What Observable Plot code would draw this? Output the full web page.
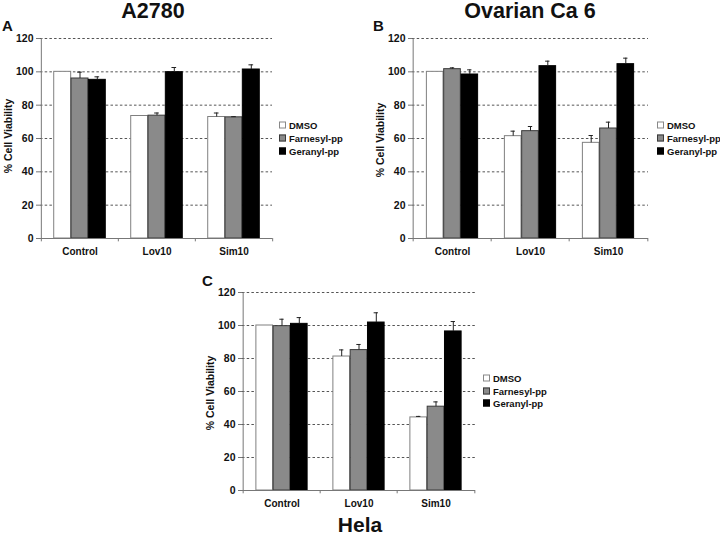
<!DOCTYPE html>
<html>
<head>
<meta charset="utf-8">
<script src="https://cdn.jsdelivr.net/npm/d3@7"></script>
<script src="https://cdn.jsdelivr.net/npm/@observablehq/plot@0.6"></script>
<style>
  html, body { margin: 0; padding: 0; background: #fff; }
  #fig { position: relative; width: 720px; height: 536px; background: #fff; font-family: "Liberation Sans", Arial, sans-serif; color: #111; overflow: hidden; }
  .abs { position: absolute; }
  .title { font-weight: bold; white-space: nowrap; line-height: 1; transform: translate(-50%, -50%); }
  .letter { font-weight: bold; font-size: 15px; transform: translateY(-50%); }
  .ylab { font-weight: bold; font-size: 10.5px; white-space: nowrap; transform: translate(-50%, -50%) rotate(-90deg); }
  .legend { font-weight: bold; font-size: 9.5px; }
  .legend .row { position: absolute; left: 0; white-space: nowrap; transform: translateY(-50%); display: flex; align-items: center; }
  .legend .box { width: 7px; height: 7px; margin-right: 3px; box-sizing: border-box; }
</style>
</head>
<body>
<div id="fig"></div>
<script>
const categories = ["Control", "Lov10", "Sim10"];
const series = ["DMSO", "Farnesyl-pp", "Geranyl-pp"];
const yTicks = [0, 20, 40, 60, 80, 100, 120];

// values[category][series], errors[category][series]
const a2780Values = [[100, 96.0, 95.2], [73.5, 73.7, 99.8], [72.9, 72.7, 101.4]];
const a2780Errors = [[0, 3.8, 1.8], [0, 1.6, 2.8], [2.4, 0.4, 2.8]];
const ovarianValues = [[100, 101.6, 98.4], [61.4, 64.4, 103.4], [57.4, 66.0, 104.6]];
const ovarianErrors = [[0, 0.8, 2.8], [3.0, 2.8, 3.0], [4.4, 3.8, 3.6]];
const helaValues = [[100, 99.6, 101.0], [81.2, 85.1, 101.8], [44.3, 50.8, 96.4]];
const helaErrors = [[0, 4.2, 3.8], [4.0, 3.4, 5.9], [0.6, 2.9, 6.0]];

const fills = ["#ffffff", "#8a8a8a", "#000000"];
const strokes = ["#808080", "#3a3a3a", "#000000"];

const fig = document.getElementById("fig");

function add(html, cls, x, y, extra = "") {
  const d = document.createElement("div");
  d.className = "abs " + cls;
  d.style.left = x + "px";
  d.style.top = y + "px";
  if (extra) d.style.cssText += extra;
  d.textContent = html;
  fig.appendChild(d);
  return d;
}

function panel({values, errors, left, top, width, height, ml, mr, mt, mb}) {
  const rows = [];
  categories.forEach((c, ci) => series.forEach((s, si) => {
    rows.push({category: c, series: s, si, value: values[ci][si], err: errors[ci][si]});
  }));
  const b = (width - ml - mr) / categories.length;
  const w = 17.3;
  const off0 = (b - 3 * w) / 2;
  const cap = 2.5;
  const marks = [
    Plot.ruleY([20, 40, 60, 80, 100, 120], {stroke: "#555", strokeDasharray: "2.5,2.2", strokeWidth: 1})
  ];
  series.forEach((s, si) => {
    const data = rows.filter(r => r.si === si);
    const il = off0 + si * w;
    marks.push(Plot.barY(data, {
      x: "category", y: "value", fill: fills[si], stroke: strokes[si], strokeWidth: 1,
      insetLeft: il, insetRight: b - il - w
    }));
    const ed = data.filter(r => r.err > 0);
    const dxc = (si - 1) * w;
    marks.push(Plot.ruleX(ed, {x: "category", y1: "value", y2: d => d.value + d.err, dx: dxc, stroke: "#222", strokeWidth: 1}));
    marks.push(Plot.tickY(ed, {x: "category", y: d => d.value + d.err, stroke: "#222", strokeWidth: 1,
      insetLeft: b / 2 + dxc - cap, insetRight: b / 2 - dxc - cap}));
  });
  marks.push(Plot.ruleY([0], {stroke: "#777", strokeWidth: 1}));
  marks.push(Plot.ruleX([categories[0]], {y1: 0, y2: 120, dx: -b / 2, stroke: "#777", strokeWidth: 1}));
  marks.push(Plot.ruleX(categories, {y1: 0, y2: -2, dx: -b / 2, stroke: "#777"}));
  marks.push(Plot.ruleX([categories[categories.length - 1]], {y1: 0, y2: -2, dx: b / 2, stroke: "#777"}));
  marks.push(Plot.axisY({ticks: yTicks, tickSize: 4, tickPadding: 3, label: null, stroke: "#777", fontSize: 10.5}));
  marks.push(Plot.axisX({tickSize: 0, tickPadding: 9, label: null}));

  const svg = Plot.plot({
    width, height,
    marginLeft: ml, marginRight: mr, marginTop: mt, marginBottom: mb,
    x: {domain: categories, padding: 0, axis: null},
    y: {domain: [0, 120], axis: null},
    style: {fontFamily: "'Liberation Sans', Arial, sans-serif", fontSize: "10px", fontWeight: "bold", color: "#111", background: "transparent", overflow: "visible"},
    marks
  });
  svg.style.position = "absolute";
  svg.style.left = left + "px";
  svg.style.top = top + "px";
  fig.appendChild(svg);
}

function legend(x, y0, dy) {
  const lg = document.createElement("div");
  lg.className = "abs legend";
  lg.style.left = x + "px";
  lg.style.top = "0px";
  series.forEach((s, i) => {
    const r = document.createElement("div");
    r.className = "row";
    r.style.top = (y0 + i * dy) + "px";
    const bx = document.createElement("span");
    bx.className = "box";
    bx.style.background = fills[i];
    bx.style.border = "1px solid " + (i === 0 ? "#888" : strokes[i]);
    const t = document.createElement("span");
    t.textContent = s;
    r.appendChild(bx); r.appendChild(t);
    lg.appendChild(r);
  });
  fig.appendChild(lg);
}

// Panel A
panel({values: a2780Values, errors: a2780Errors, left: 0, top: 0, width: 360, height: 270, ml: 40, mr: 88, mt: 38, mb: 32});
add("A2780", "title", 153, 11.5, "font-size:21.5px;");
add("A", "letter", 2, 25);
add("% Cell Viability", "ylab", 8, 136);
legend(279, 125, 12.8);

// Panel B
panel({values: ovarianValues, errors: ovarianErrors, left: 360, top: 0, width: 360, height: 270, ml: 52, mr: 72, mt: 38, mb: 32});
add("Ovarian Ca 6", "title", 530, 11.5, "font-size:21.5px;");
add("B", "letter", 373, 25);
add("% Cell Viability", "ylab", 380, 140);
legend(657, 125, 12.8);

// Panel C
panel({values: helaValues, errors: helaErrors, left: 190, top: 270, width: 360, height: 250, ml: 52, mr: 75, mt: 22, mb: 30});
add("C", "letter", 202, 280);
add("% Cell Viability", "ylab", 210, 393);
legend(483, 378, 12.7);
add("Hela", "title", 360, 524, "font-size:21px;");
</script>
</body>
</html>
